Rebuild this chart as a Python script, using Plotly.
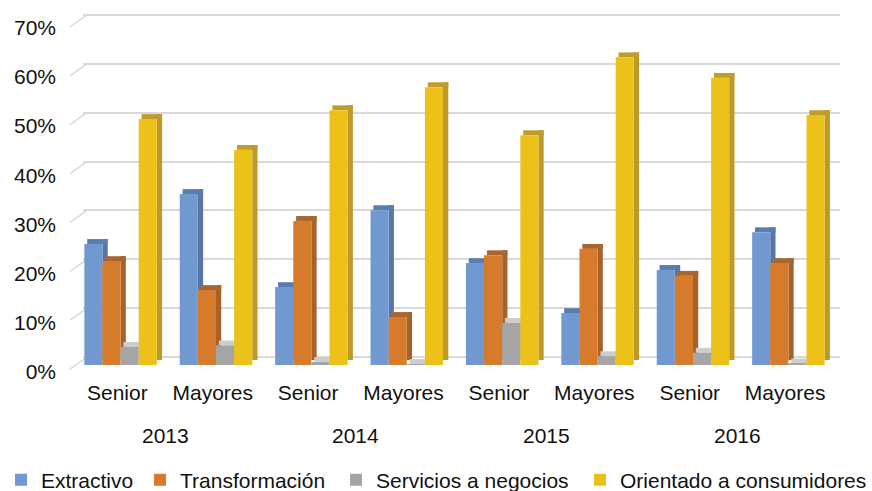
import plotly.graph_objects as go

# ---------------- data ----------------
years = ["2013", "2014", "2015", "2016"]
groups = ["Senior", "Mayores", "Senior", "Mayores", "Senior", "Mayores", "Senior", "Mayores"]
series_names = ["Extractivo", "Transformación", "Servicios a negocios", "Orientado a consumidores"]
extractivo = [24.7, 34.9, 15.9, 31.6, 20.8, 10.6, 19.4, 27.1]
transformacion = [21.2, 15.3, 29.4, 9.8, 22.4, 23.7, 18.2, 20.8]
servicios = [3.7, 4.0, 0.6, 0.2, 8.6, 1.8, 2.5, 0.3]
consumidores = [50.2, 43.9, 52.0, 56.7, 46.9, 62.8, 58.6, 51.0]
y_ticks = [0, 10, 20, 30, 40, 50, 60, 70]
y_tick_labels = ["0%", "10%", "20%", "30%", "40%", "50%", "60%", "70%"]

series_values = [extractivo, transformacion, servicios, consumidores]
front_colors = ["#7199D0", "#D57B2B", "#A5A5A5", "#ECC11A"]
side_colors = ["#5676A8", "#A6622B", "#8E8E8E", "#BD982B"]
cap_colors = ["#5A7DB1", "#A8652D", "#CDCDCD", "#BF9C2E"]

FONT = "Liberation Sans, Arial, sans-serif"
idx = list(range(len(groups)))

# geometry (style constants)
bar_w = 0.19
start_off = -0.346
side_w = 0.055
depth = 1.0  # vertical depth offset in % units

fig = go.Figure()
legend_ids = ["legend", "legend2", "legend3", "legend4"]
for k, (name, vals) in enumerate(zip(series_names, series_values)):
    off = start_off + bar_w * k
    # side face
    fig.add_trace(go.Bar(
        x=idx, y=vals, base=[depth] * len(vals), offset=off + bar_w, width=side_w,
        marker=dict(color=side_colors[k], line=dict(width=0)),
        showlegend=False, hoverinfo="skip"))
    # top cap
    fig.add_trace(go.Bar(
        x=idx, y=[depth] * len(vals), base=vals, offset=off + 0.03, width=bar_w + 0.025,
        marker=dict(color=cap_colors[k], line=dict(width=0)),
        showlegend=False, hoverinfo="skip"))
    # front face
    fig.add_trace(go.Bar(
        x=idx, y=vals, offset=off, width=bar_w, name=name,
        marker=dict(color=front_colors[k], line=dict(width=0)),
        legend=legend_ids[k], hoverinfo="skip"))

# invisible helpers so the grid axis and the label axis are drawn
fig.add_trace(go.Scatter(x=[None] * len(y_ticks), y=y_ticks, yaxis="y2", mode="markers",
                         marker=dict(opacity=0), showlegend=False, hoverinfo="skip"))
fig.add_trace(go.Scatter(x=[None] * len(y_ticks), y=y_ticks, yaxis="y3", mode="markers",
                         marker=dict(opacity=0), showlegend=False, hoverinfo="skip"))

# plot area px: left 83, right 840, top 10, bottom 378
L, R, T, B = 83, 840, 10, 378
W, H = 872, 491
pw = R - L

shapes = []
for v in y_ticks:
    shapes.append(dict(type="line", xref="paper", yref="y2",
                       x0=(70 - L) / pw, y0=v - 2.46, x1=(87 - L) / pw, y1=v,
                       line=dict(color="#D9D9D9", width=1.5), layer="below"))

annotations = []
for j, yr in enumerate(years):
    annotations.append(dict(x=2 * j + 0.5, xref="x", y=-(435 - B) / (B - T), yref="paper",
                            text=yr, showarrow=False, xanchor="center", yanchor="middle",
                            font=dict(family=FONT, size=21, color="#111111")))

legend_text_x = [41, 180, 376, 620]
legend_common = dict(orientation="h", xref="container", yref="container",
                     y=1 - 480 / H, yanchor="middle", xanchor="left",
                     font=dict(family=FONT, size=21, color="#111111"),
                     bgcolor="rgba(0,0,0,0)", borderwidth=0)

layout_legends = {}
for k, lid in enumerate(legend_ids):
    layout_legends[lid] = dict(x=(legend_text_x[k] - 40) / W, **legend_common)

fig.update_layout(
    width=W, height=H,
    margin=dict(l=L, r=W - R, t=T, b=H - B, pad=0),
    paper_bgcolor="white", plot_bgcolor="rgba(0,0,0,0)",
    font=dict(family=FONT, size=21, color="#111111"),
    barmode="overlay", hovermode=False,
    xaxis=dict(range=[-0.36, 7.575], tickvals=idx, ticktext=groups,
               showgrid=False, zeroline=False, showline=False, ticks="",
               tickfont=dict(family=FONT, size=21, color="#111111"),
               ticklabelstandoff=0),
    yaxis=dict(range=[-(378 - 365) / 4.9, (365 - 10) / 4.9], visible=False, showgrid=False,
               zeroline=False),
    yaxis2=dict(overlaying="y", range=[-(378 - 357) / 4.886, (357 - 10) / 4.886],
                tickvals=y_ticks, showgrid=True, gridcolor="#D9D9D9", gridwidth=1.5,
                showticklabels=False, zeroline=False, showline=False, ticks="", side="left",
                layer="below traces"),
    yaxis3=dict(overlaying="y", range=[-(378 - 372) / 4.92, (372 - 10) / 4.92],
                tickmode="array", tickvals=y_ticks, ticktext=y_tick_labels,
                showgrid=False, zeroline=False,
                showline=False, ticks="", side="left", ticklabelstandoff=26,
                tickfont=dict(family=FONT, size=21, color="#111111")),
    shapes=shapes, annotations=annotations,
    **layout_legends,
)

fig.write_html("out.html", config={"displayModeBar": False},
               post_script="document.body.style.margin='0px';")
